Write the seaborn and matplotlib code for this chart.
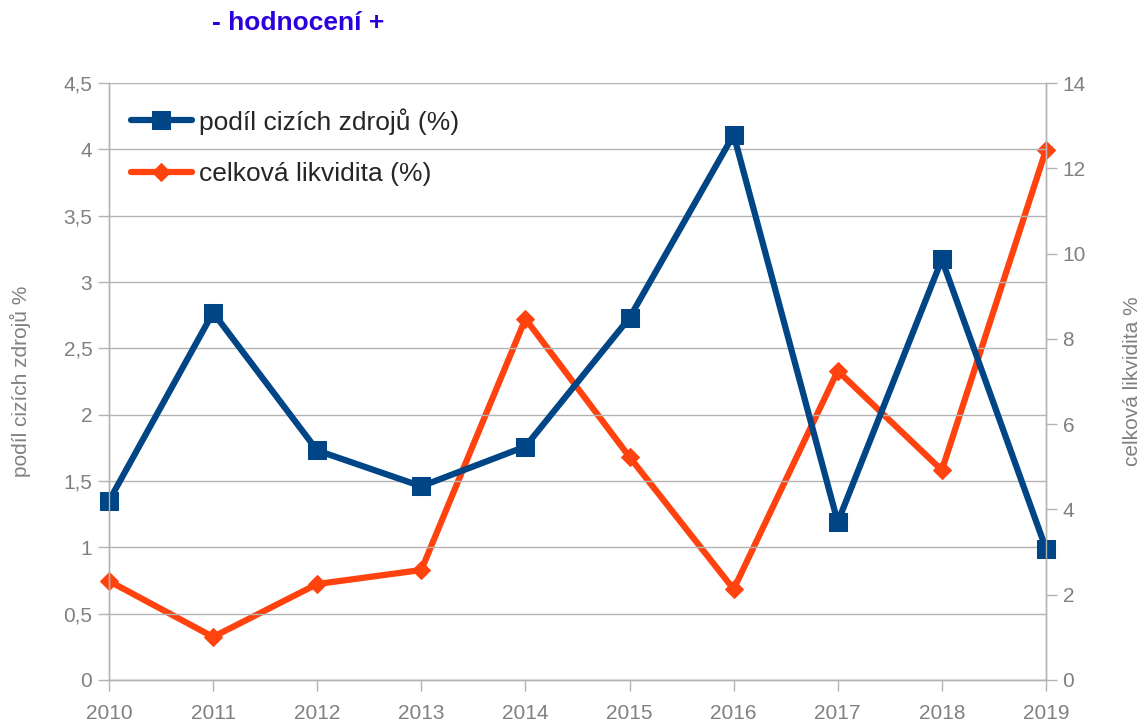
import numpy as np
import pandas as pd
import seaborn as sns
import matplotlib.pyplot as plt

years = [2010, 2011, 2012, 2013, 2014, 2015, 2016, 2017, 2018, 2019]
podil = [1.35, 2.77, 1.73, 1.46, 1.76, 2.73, 4.11, 1.19, 3.17, 0.99]
likvidita = [2.32, 1.01, 2.25, 2.58, 8.47, 5.23, 2.13, 7.25, 4.92, 12.43]

df = pd.DataFrame({"rok": years, "podil": podil, "likvidita": likvidita})

sns.set_style("white")
plt.rcParams['font.family'] = ['Liberation Sans', 'DejaVu Sans']

blue = "#004586"
orange = "#ff420e"
grey = "#808080"
gridc = "#b3b3b3"

fig = plt.figure(figsize=(11.45, 7.22), dpi=100)
ax = fig.add_axes([0.0952, 0.0582, 0.8183, 0.8268])
ax2 = ax.twinx()

sns.lineplot(data=df, x="rok", y="podil", ax=ax, color=blue, linewidth=4.5,
             marker="s", markersize=13, markeredgecolor=blue,
             label="podíl cizích zdrojů (%)", legend=False, clip_on=False)
sns.lineplot(data=df, x="rok", y="likvidita", ax=ax2, color=orange, linewidth=4.5,
             marker="D", markersize=9, markeredgecolor=orange,
             label="celková likvidita (%)", legend=False, clip_on=False)

ax.set_xlim(2010, 2019)
ax.set_ylim(0, 4.5)
ax2.set_ylim(0, 14)
ax.set_xticks(years)
ax.set_yticks(np.arange(0, 4.51, 0.5))
ax.set_yticklabels([("%g" % v).replace(".", ",") for v in np.arange(0, 4.51, 0.5)])
ax2.set_yticks(np.arange(0, 14.1, 2))

ax.grid(axis="y", color=gridc, linewidth=1)
ax.set_axisbelow(True)
ax.set_zorder(ax2.get_zorder() + 1)
ax.patch.set_visible(False)

for a in (ax, ax2):
    for s in a.spines.values():
        s.set_color(gridc)
        s.set_linewidth(1)
    a.spines["top"].set_visible(False)
    a.tick_params(colors=gridc, labelcolor=grey, labelsize=15, length=8, width=1,
                  direction="out", pad=4)
ax.tick_params(axis="x", bottom=True, pad=9)
ax.tick_params(axis="y", left=True)
ax2.tick_params(axis="y", right=True)

ax.set_xlabel("")
ax.set_ylabel("podíl cizích zdrojů %", color=grey, fontsize=15, labelpad=23)
ax2.set_ylabel("celková likvidita %", color=grey, fontsize=15, labelpad=27)

h1, l1 = ax.get_legend_handles_labels()
h2, l2 = ax2.get_legend_handles_labels()
ax.legend(h1 + h2, l1 + l2, loc="upper left", bbox_to_anchor=(-0.002, 0.998),
          frameon=False, fontsize=19, handlelength=2.3, handletextpad=0.3,
          labelspacing=1.05)

fig.text(0.185, 0.968, "- hodnocení +", color="#2a00dd", fontsize=19,
         fontweight="bold", ha="left", va="center")

fig.savefig("out.png", dpi=100)
